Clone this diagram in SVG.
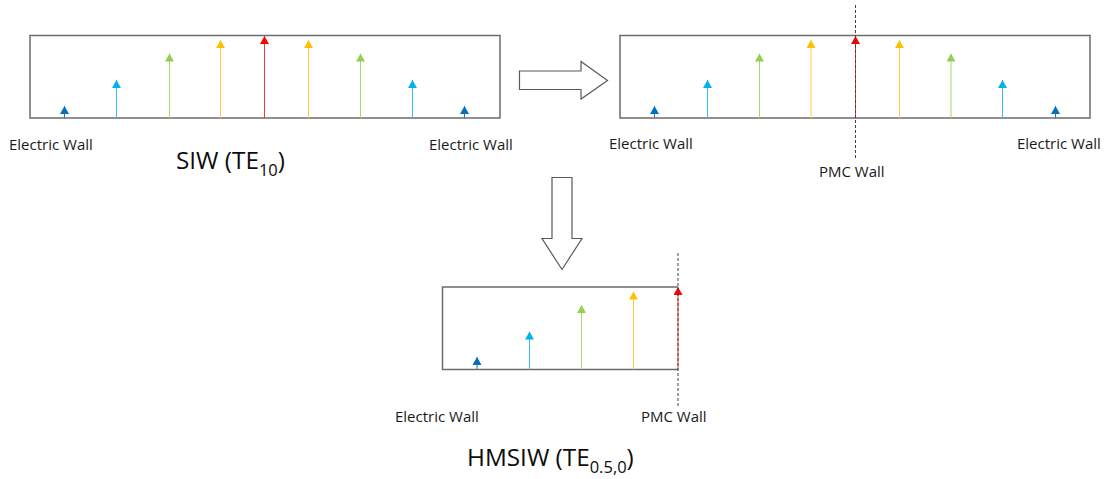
<svg xmlns="http://www.w3.org/2000/svg" width="1110" height="479" viewBox="0 0 1110 479">
<style>
.bg{fill:#ffffff}
.box{fill:none;stroke:#6b6b6b;stroke-width:1.5}
.big{fill:none;stroke:#595959;stroke-width:1.2;fill:#ffffff}
.pmc{stroke:#404040;stroke-width:1;stroke-dasharray:3,2;fill:none}
.lbl{font-family:"Open Sans","Noto Sans",sans-serif;font-size:15px;fill:#1a1a1a}
.ttl{font-family:"Open Sans","Noto Sans",sans-serif;font-size:24.3px;fill:#0d0d0d}
.db{stroke:#2E75B6;stroke-width:1}
.lb{stroke:#33BFF2;stroke-width:1}
.gr{stroke:#A9D670;stroke-width:1}
.ye{stroke:#FFCC40;stroke-width:1}
.rd{stroke:#FF3333;stroke-width:1}
</style>
<defs>
<marker id="mdb" viewBox="0 0 8 9" refX="8" refY="4.5" markerWidth="8" markerHeight="9" markerUnits="userSpaceOnUse" orient="auto"><path d="M0,0 L8,4.5 L0,9 z" fill="#0070C0"/></marker>
<marker id="mlb" viewBox="0 0 8 9" refX="8" refY="4.5" markerWidth="8" markerHeight="9" markerUnits="userSpaceOnUse" orient="auto"><path d="M0,0 L8,4.5 L0,9 z" fill="#00B0F0"/></marker>
<marker id="mgr" viewBox="0 0 8 9" refX="8" refY="4.5" markerWidth="8" markerHeight="9" markerUnits="userSpaceOnUse" orient="auto"><path d="M0,0 L8,4.5 L0,9 z" fill="#92D050"/></marker>
<marker id="mye" viewBox="0 0 8 9" refX="8" refY="4.5" markerWidth="8" markerHeight="9" markerUnits="userSpaceOnUse" orient="auto"><path d="M0,0 L8,4.5 L0,9 z" fill="#FFC000"/></marker>
<marker id="mrd" viewBox="0 0 8 9" refX="8" refY="4.5" markerWidth="8" markerHeight="9" markerUnits="userSpaceOnUse" orient="auto"><path d="M0,0 L8,4.5 L0,9 z" fill="#FF0000"/></marker>
</defs>
<rect class="bg" x="0" y="0" width="1110" height="479"/>

<g id="siw">
<rect class="box" x="30" y="35.5" width="470" height="82.5"/>
<line class="db" x1="64.5" y1="118" x2="64.5" y2="106" marker-end="url(#mdb)"/>
<line class="lb" x1="116.5" y1="118" x2="116.5" y2="80" marker-end="url(#mlb)"/>
<line class="gr" x1="169.5" y1="118" x2="169.5" y2="53.5" marker-end="url(#mgr)"/>
<line class="ye" x1="220.5" y1="118" x2="220.5" y2="40" marker-end="url(#mye)"/>
<line class="rd" x1="264.5" y1="118" x2="264.5" y2="36" marker-end="url(#mrd)"/>
<line class="ye" x1="308.5" y1="118" x2="308.5" y2="40" marker-end="url(#mye)"/>
<line class="gr" x1="360.5" y1="118" x2="360.5" y2="53.5" marker-end="url(#mgr)"/>
<line class="lb" x1="412.5" y1="118" x2="412.5" y2="80" marker-end="url(#mlb)"/>
<line class="db" x1="464.5" y1="118" x2="464.5" y2="106" marker-end="url(#mdb)"/>
<text class="lbl" x="9" y="150">Electric Wall</text>
<text class="lbl" x="429" y="150">Electric Wall</text>
<text class="ttl" x="176" y="169">SIW (TE<tspan font-size="16.5" dy="7">10</tspan><tspan dy="-7">)</tspan></text>
</g>

<g id="siw-pmc">
<rect class="box" x="620" y="35.5" width="470" height="82.5"/>
<line class="db" x1="654.5" y1="118" x2="654.5" y2="106" marker-end="url(#mdb)"/>
<line class="lb" x1="707.5" y1="118" x2="707.5" y2="80" marker-end="url(#mlb)"/>
<line class="gr" x1="759.5" y1="118" x2="759.5" y2="53.5" marker-end="url(#mgr)"/>
<line class="ye" x1="811" y1="118" x2="811" y2="40" marker-end="url(#mye)"/>
<line class="rd" x1="855.5" y1="118" x2="855.5" y2="36" marker-end="url(#mrd)"/>
<line class="ye" x1="899.5" y1="118" x2="899.5" y2="40" marker-end="url(#mye)"/>
<line class="gr" x1="951" y1="118" x2="951" y2="53.5" marker-end="url(#mgr)"/>
<line class="lb" x1="1002.5" y1="118" x2="1002.5" y2="80" marker-end="url(#mlb)"/>
<line class="db" x1="1055.5" y1="118" x2="1055.5" y2="106" marker-end="url(#mdb)"/>
<line class="pmc" x1="855.5" y1="5" x2="855.5" y2="160"/>
<text class="lbl" x="609" y="149">Electric Wall</text>
<text class="lbl" x="1017" y="149">Electric Wall</text>
<text class="lbl" x="819" y="176.5">PMC Wall</text>
</g>

<g id="hmsiw">
<path class="box" d="M678,287 H442.5 V369.5 H678"/>
<line class="db" x1="477" y1="369.5" x2="477" y2="357" marker-end="url(#mdb)"/>
<line class="lb" x1="529.5" y1="369.5" x2="529.5" y2="331.5" marker-end="url(#mlb)"/>
<line class="gr" x1="581.5" y1="369.5" x2="581.5" y2="305" marker-end="url(#mgr)"/>
<line class="ye" x1="633.5" y1="369.5" x2="633.5" y2="291.5" marker-end="url(#mye)"/>
<line class="rd" x1="678" y1="369.5" x2="678" y2="287" marker-end="url(#mrd)"/>
<line class="pmc" x1="678" y1="253" x2="678" y2="407"/>
<text class="lbl" x="395" y="421.5">Electric Wall</text>
<text class="lbl" x="641" y="421.5">PMC Wall</text>
<text class="ttl" x="467" y="466">HMSIW (TE<tspan font-size="16.5" dy="7">0.5,0</tspan><tspan dy="-7">)</tspan></text>
</g>

<g id="connectors">
<polygon class="big" points="519.5,71 581,71 581,61.5 607.5,80.5 581,99 581,89.5 519.5,89.5"/>
<polygon class="big" points="552,177.5 572,177.5 572,238.5 582,238.5 562,269.5 542,238.5 552,238.5"/>
</g>
</svg>
